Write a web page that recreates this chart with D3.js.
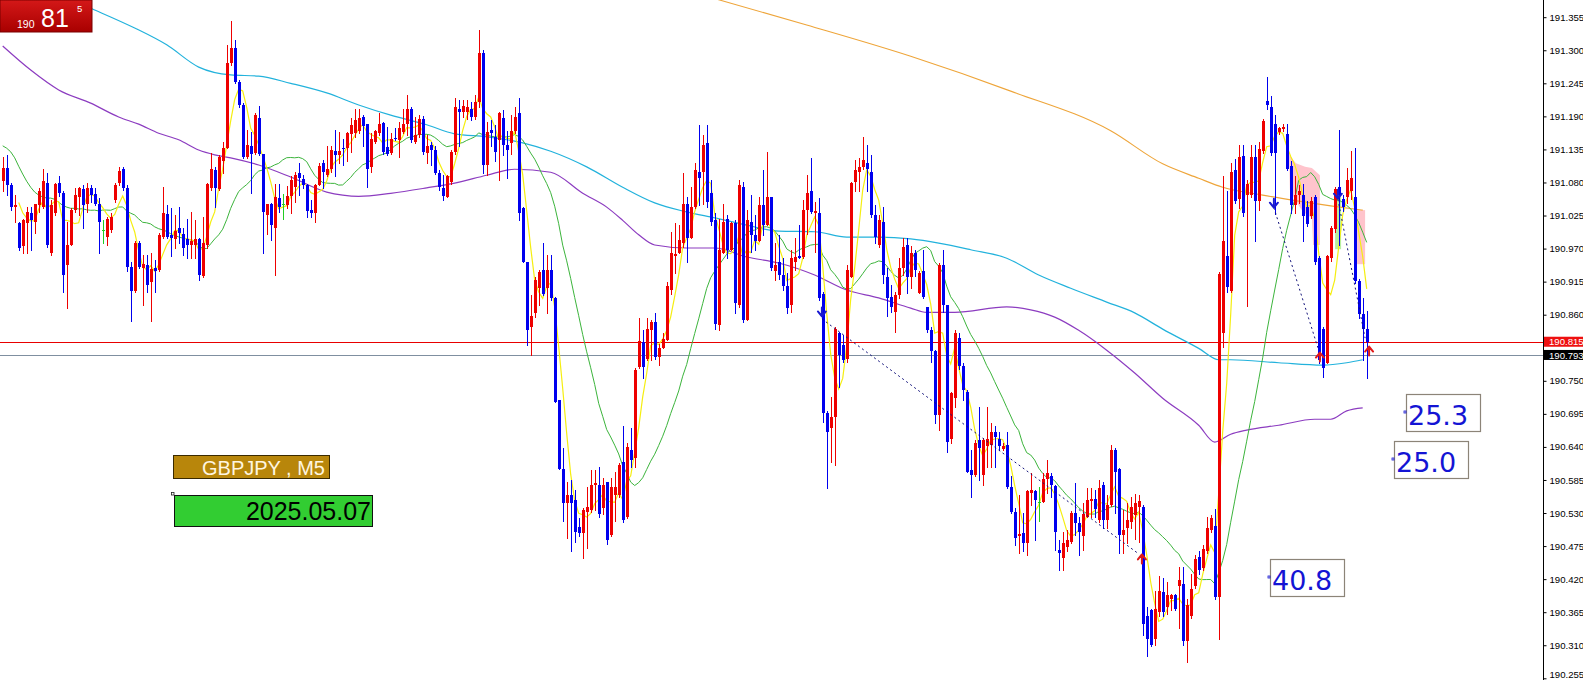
<!DOCTYPE html>
<html><head><meta charset="utf-8">
<script src="https://cdnjs.cloudflare.com/ajax/libs/d3/7.8.5/d3.min.js"></script>
<style>html,body{margin:0;padding:0;background:#fff;overflow:hidden}svg{display:block}</style>
</head><body><svg id="c" width="1583" height="680"></svg>
<script>
// ---- DATA ----
const symbolLabel = "GBPJPY , M5";
const dateLabel = "2025.05.07";
const bidPrice = 190.815;
const secondPrice = 190.793;
const yTickLabels = ["191.355","191.300","191.245","191.190","191.135","191.080","191.025","190.970","190.915","190.860","190.750","190.695","190.640","190.585","190.530","190.475","190.420","190.365","190.310","190.255"];
// [open, high, low, close]
const candles = [
[191.082,191.123,191.065,191.104],[191.104,191.126,191.059,191.076],[191.076,191.079,191.034,191.040],[191.040,191.059,191.015,191.043],
[191.012,191.015,190.968,190.971],[190.974,191.020,190.962,191.018],[191.012,191.040,190.962,191.031],[191.029,191.040,190.968,191.018],
[191.015,191.045,190.996,191.044],[191.043,191.070,191.031,191.066],[191.040,191.103,191.037,191.082],[191.079,191.095,190.973,190.976],
[190.962,191.051,190.959,191.043],[191.029,191.079,191.026,191.077],[191.079,191.090,191.057,191.062],[191.062,191.065,190.898,190.926],
[190.943,191.015,190.871,190.976],[190.976,191.037,190.976,191.034],[191.034,191.070,191.031,191.059],[191.055,191.073,191.026,191.070],
[191.069,191.076,191.004,191.043],[191.045,191.079,191.031,191.070],[191.070,191.076,191.048,191.059],[191.060,191.070,191.043,191.045],
[191.045,191.054,190.962,191.015],[191.001,191.018,190.979,191.001],[190.990,191.023,190.976,191.019],[191.001,191.029,190.998,191.023],
[191.051,191.079,191.048,191.076],[191.079,191.106,191.076,191.099],[191.103,191.105,191.068,191.070],[191.070,191.076,190.932,190.940],
[190.940,190.948,190.849,190.900],[190.900,190.982,190.898,190.979],[190.979,190.982,190.937,190.940],[190.937,190.959,190.876,190.944],
[190.942,190.959,190.898,190.909],[190.915,190.962,190.849,190.936],[190.938,190.951,190.898,190.933],[190.935,190.996,190.932,190.993],
[190.990,191.073,190.987,191.029],[191.028,191.043,190.987,190.990],[190.993,191.038,190.957,190.988],[190.986,191.026,190.971,190.999],
[191.005,191.040,190.979,190.996],[190.994,191.004,190.959,190.971],[190.986,191.019,190.954,190.976],[190.976,191.031,190.954,190.982],
[190.976,191.018,190.954,190.986],[190.986,190.987,190.918,190.926],[190.925,191.023,190.923,190.979],[190.976,191.079,190.971,191.077],
[191.070,191.129,191.068,191.103],[191.101,191.106,191.040,191.070],[191.069,191.126,191.068,191.123],[191.115,191.148,191.095,191.138],
[191.138,191.309,191.137,191.279],[191.278,191.348,191.275,191.303],[191.303,191.317,191.245,191.248],[191.248,191.250,191.205,191.209],
[191.209,191.212,191.120,191.123],[191.123,191.167,191.120,191.142],[191.140,191.164,191.062,191.128],[191.129,191.195,191.128,191.192],
[191.187,191.207,191.126,191.128],[191.128,191.128,190.962,191.031],[191.026,191.045,190.995,191.045],[191.045,191.046,190.984,191.009],
[191.004,191.078,190.926,191.056],[191.054,191.078,191.031,191.040],[191.045,191.061,191.020,191.045],[191.042,191.074,191.037,191.057],
[191.057,191.090,191.030,191.084],[191.073,191.098,191.048,191.092],[191.096,191.112,191.059,191.087],[191.085,191.092,191.070,191.076],
[191.076,191.078,191.023,191.033],[191.034,191.051,191.023,191.029],[191.029,191.078,191.015,191.076],[191.076,191.112,191.076,191.107],
[191.113,191.117,191.070,191.098],[191.092,191.140,191.090,191.103],[191.103,191.141,191.098,191.134],[191.132,191.167,191.090,191.126],
[191.126,191.164,191.112,191.132],[191.137,191.153,191.109,191.135],[191.137,191.164,191.115,191.162],[191.160,191.187,191.131,191.176],
[191.162,191.202,191.156,191.184],[191.165,191.202,191.162,191.187],[191.189,191.192,191.140,191.174],[191.177,191.178,191.073,191.103],
[191.106,191.162,191.098,191.153],[191.148,191.167,191.145,191.165],[191.162,191.196,191.159,191.177],[191.179,191.181,191.128,191.131],
[191.139,191.173,191.126,191.128],[191.129,191.162,191.128,191.153],[191.154,191.170,191.150,191.153],[191.150,191.181,191.123,191.170],
[191.164,191.203,191.162,191.178],[191.177,191.225,191.159,191.203],[191.203,191.205,191.148,191.151],[191.148,191.189,191.145,191.159],
[191.159,191.192,191.156,191.185],[191.185,191.191,191.128,191.131],[191.129,191.159,191.112,191.140],[191.142,191.148,191.109,191.134],
[191.134,191.140,191.094,191.095],[191.096,191.101,191.067,191.073],[191.070,191.092,191.051,191.057],[191.056,191.092,191.056,191.091],
[191.081,191.134,191.078,191.131],[191.131,191.220,191.128,191.206],[191.203,191.217,191.140,191.198],[191.198,191.217,191.189,191.207],
[191.198,191.217,191.185,191.206],[191.203,191.214,191.184,191.189],[191.189,191.225,191.185,191.214],[191.214,191.333,191.205,191.296],
[191.296,191.300,191.095,191.109],[191.109,191.181,191.092,191.164],[191.167,191.184,191.140,191.162],[191.156,191.176,191.115,191.131],
[191.151,191.198,191.084,191.195],[191.187,191.201,191.126,191.142],[191.142,191.165,191.087,191.134],[191.145,191.192,191.128,191.165],
[191.165,191.206,191.162,191.189],[191.195,191.220,191.017,191.029],[191.037,191.040,190.948,190.948],[190.948,190.948,190.809,190.834],
[190.840,190.893,190.793,190.858],[190.862,190.923,190.856,190.918],[190.904,190.934,190.876,190.931],[190.935,190.979,190.893,190.895],
[190.904,190.959,190.862,190.934],[190.935,190.959,190.884,190.887],[190.887,190.890,190.715,190.715],[190.718,190.718,190.604,190.604],
[190.603,190.638,190.516,190.546],[190.546,190.582,190.488,190.560],[190.560,190.585,190.466,190.546],[190.552,190.568,190.482,190.499],
[190.507,190.521,190.491,190.496],[190.496,190.538,190.455,190.535],[190.532,190.574,190.471,190.540],[190.535,190.602,190.532,190.577],
[190.577,190.602,190.535,190.580],[190.577,190.607,190.524,190.529],[190.538,190.588,190.529,190.577],[190.582,190.582,190.479,190.485],
[190.493,190.588,190.491,190.574],[190.560,190.599,190.516,190.574],[190.560,190.613,190.557,190.610],[190.615,190.674,190.515,190.518],
[190.524,190.646,190.521,190.640],[190.635,190.671,190.607,190.618],[190.621,190.771,190.607,190.768],[190.773,190.854,190.771,190.817],
[190.815,190.834,190.754,190.773],[190.787,190.854,190.785,190.837],[190.834,190.851,190.785,190.848],[190.848,190.862,190.787,190.790],
[190.790,190.812,190.776,190.804],[190.804,190.829,190.804,190.819],[190.818,190.915,190.818,190.907],[190.901,190.998,190.895,190.962],
[190.957,191.012,190.929,190.961],[190.962,191.009,190.962,190.984],[190.979,191.095,190.973,191.045],[191.045,191.056,190.948,190.987],
[190.987,191.073,190.987,191.040],[191.040,191.112,191.037,191.101],[191.098,191.176,191.042,191.087],[191.098,191.159,191.045,191.142],
[191.145,191.176,191.040,191.048],[191.062,191.084,191.009,191.015],[191.017,191.029,190.837,190.845],[190.843,191.020,190.834,190.968],
[190.962,191.045,190.962,191.015],[191.019,191.026,190.954,190.968],[190.968,191.015,190.968,191.012],[191.012,191.017,190.862,190.879],
[190.876,191.084,190.873,191.076],[191.073,191.081,190.848,190.851],[190.851,191.034,190.851,191.017],[191.015,191.059,190.965,190.993],
[190.993,191.026,190.968,190.982],[190.982,191.056,190.982,191.043],[191.043,191.101,190.993,191.009],[191.009,191.131,191.009,191.056],
[191.056,191.056,190.934,190.937],[190.932,190.979,190.918,190.943],[190.948,190.992,190.920,190.926],[190.926,190.954,190.901,190.907],
[190.907,190.929,190.862,190.871],[190.876,190.968,190.865,190.954],[190.948,190.987,190.934,190.956],[190.958,191.009,190.954,190.954],
[190.956,191.051,190.954,191.034],[191.034,191.092,190.995,191.062],[191.065,191.120,191.029,191.031],[191.029,191.048,190.965,191.032],
[191.029,191.054,190.884,190.887],[190.895,190.898,190.682,190.696],[190.696,190.699,190.571,190.665],[190.671,190.723,190.615,190.690],
[190.690,190.840,190.610,190.837],[190.829,190.832,190.740,190.793],[190.809,190.826,190.782,190.785],[190.787,190.943,190.782,190.934],
[190.923,191.081,190.923,191.079],[191.081,191.117,191.065,191.101],[191.098,191.120,191.065,191.106],[191.106,191.156,191.103,191.117],
[191.112,191.142,191.065,191.103],[191.098,191.126,191.023,191.026],[191.026,191.043,190.979,190.990],[190.976,191.026,190.973,191.017],
[191.015,191.040,190.912,190.926],[190.923,190.937,190.857,190.887],[190.890,190.909,190.865,190.873],[190.865,190.898,190.832,190.893],
[190.893,190.954,190.887,190.937],[190.937,190.987,190.926,190.973],[190.976,190.987,190.896,190.923],[190.923,190.975,190.905,190.962],
[190.962,190.968,190.925,190.935],[190.896,190.932,190.896,190.929],[190.932,190.968,190.887,190.890],[190.873,190.873,190.832,190.835],
[190.835,190.840,190.782,190.799],[190.799,190.801,190.679,190.693],[190.693,190.946,190.668,190.943],[190.943,190.968,190.865,190.876],
[190.876,190.876,190.632,190.649],[190.654,190.732,190.646,190.729],[190.721,190.835,190.707,190.829],[190.821,190.829,190.770,190.774],
[190.774,190.779,190.718,190.735],[190.732,190.735,190.599,190.599],[190.602,190.635,190.557,190.593],[190.593,190.652,190.591,190.646],
[190.652,190.707,190.585,190.638],[190.593,190.655,190.577,190.652],[190.641,190.707,190.607,190.654],[190.643,190.679,190.607,190.665],
[190.664,190.674,190.607,190.657],[190.654,190.665,190.635,190.642],[190.636,190.646,190.635,190.642],[190.643,190.665,190.571,190.574],
[190.574,190.591,190.530,190.532],[190.532,190.538,190.477,190.488],[190.492,190.560,190.463,190.495],[190.496,190.530,190.466,190.480],
[190.480,190.568,190.460,190.566],[190.563,190.596,190.543,190.568],[190.567,190.568,190.485,190.552],[190.549,190.574,190.516,190.549],
[190.549,190.596,190.549,190.586],[190.586,190.618,190.563,190.597],[190.591,190.596,190.557,190.577],[190.575,190.577,190.469,190.499],
[190.468,190.485,190.435,190.463],[190.455,190.499,190.435,190.480],[190.474,190.501,190.466,190.485],[190.482,190.533,190.480,190.530],
[190.530,190.580,190.493,190.513],[190.513,190.524,190.460,190.499],[190.492,190.546,190.469,190.528],[190.524,190.571,190.524,190.552],
[190.550,190.571,190.524,190.554],[190.554,190.568,190.524,190.536],[190.519,190.585,190.515,190.571],[190.577,190.582,190.505,190.519],
[190.519,190.560,190.505,190.544],[190.544,190.643,190.541,190.635],[190.635,190.638,190.530,190.599],[190.603,190.605,190.463,190.493],
[190.493,190.535,190.463,190.501],[190.505,190.546,190.480,190.519],[190.515,190.556,190.505,190.540],[190.527,190.562,190.486,190.547],
[190.540,190.560,190.482,190.550],[190.540,190.543,190.327,190.346],[190.358,190.374,190.292,190.320],[190.368,190.371,190.308,190.311],
[190.320,190.400,190.311,190.371],[190.365,190.425,190.358,190.400],[190.398,190.422,190.358,190.365],[190.374,190.416,190.362,190.393],
[190.387,190.396,190.368,190.393],[190.393,190.396,190.368,190.371],[190.409,190.441,190.339,190.419],[190.412,190.441,190.311,190.317],
[190.317,190.387,190.282,190.377],[190.358,190.428,190.355,190.403],[190.409,190.460,190.406,190.454],[190.457,190.467,190.428,190.435],
[190.438,190.476,190.435,190.470],[190.467,190.524,190.464,190.505],[190.502,190.527,190.498,190.521],[190.508,190.537,190.387,190.390],
[190.390,190.931,190.320,190.928],[190.830,191.091,190.807,190.982],[190.957,191.065,190.897,190.906],[190.900,191.113,190.897,191.097],
[191.100,191.119,191.046,191.049],[191.052,191.142,191.037,191.122],[191.124,191.142,191.024,191.030],[191.059,191.084,190.874,191.078],
[191.059,191.142,191.056,191.122],[191.122,191.142,190.983,191.049],[191.049,191.148,191.034,191.135],[191.132,191.186,191.129,191.183],
[191.215,191.256,191.202,191.209],[191.205,191.224,191.126,191.129],[191.177,191.193,191.027,191.129],[191.164,191.173,191.161,191.170],
[191.169,191.177,191.166,191.172],[191.161,191.177,191.100,191.103],[191.107,191.116,191.030,191.043],[191.043,191.091,191.030,191.059],
[191.059,191.075,191.046,191.065],[191.059,191.078,190.983,191.024],[191.040,191.050,191.008,191.011],[191.024,191.056,191.021,191.049],
[191.056,191.059,190.944,190.947],[190.954,190.957,190.779,190.785],[190.836,190.839,190.756,190.772],[190.779,190.960,190.779,190.957],
[190.954,191.008,190.950,191.005],[191.002,191.072,190.998,191.069],[191.072,191.167,190.976,191.059],[191.052,191.059,191.033,191.040],
[191.056,191.104,191.046,191.084],[191.065,191.132,191.052,191.087],[191.056,191.138,190.912,190.916],[190.916,190.919,190.855,190.861],
[190.861,190.887,190.785,190.836],[190.836,190.866,190.754,190.815]
];
// moving averages: [candle index, price]
const purpleMA = [[0,191.307],[7,191.267],[14,191.234],[22,191.212],[29,191.189],[34,191.177],[39,191.162],[44,191.151],[49,191.134],[53,191.126],[57,191.121],[64,191.109],[72,191.089],[81,191.064],[85,191.059],[89,191.057],[97,191.062],[106,191.071],[113,191.079],[121,191.092],[128,191.102],[137,191.097],[145,191.062],[151,191.039],[155,191.017],[159,190.993],[163,190.976],[171,190.971],[178,190.971],[186,190.956],[194,190.946],[203,190.926],[211,190.901],[219,190.888],[227,190.871],[231,190.864],[238,190.864],[251,190.873],[257,190.868],[263,190.856],[269,190.834],[276,190.801],[283,190.763],[290,190.721],[299,190.676],[303,190.648],[307,190.661],[311,190.668],[319,190.676],[328,190.686],[332,190.686],[336,190.700],[340,190.705]];
const cyanMA = [[0,191.434],[12,191.398],[23,191.367],[33,191.337],[41,191.309],[49,191.272],[57,191.259],[64,191.257],[72,191.245],[81,191.229],[89,191.209],[97,191.192],[106,191.176],[113,191.161],[121,191.156],[130,191.146],[137,191.132],[146,191.106],[155,191.072],[163,191.046],[171,191.031],[178,191.021],[186,191.009],[194,190.999],[203,190.998],[211,190.989],[219,190.989],[227,190.986],[234,190.979],[242,190.968],[251,190.954],[259,190.926],[267,190.904],[276,190.881],[283,190.863],[290,190.836],[299,190.804],[304,190.785],[307,190.785],[319,190.780],[330,190.776],[336,190.780],[340,190.785]];
const orangeMA = [[172,191.397],[179,191.384],[201,191.342],[227,191.290],[252,191.232],[277,191.166],[290,191.111],[299,191.087],[305,191.072],[315,191.059],[324,191.049],[332,191.041],[340,191.034]];
const greenLead = [191.141,191.137,191.131,191.121,191.107,191.094,191.082,191.072,191.064,191.059,191.056,191.054,191.054,191.052,191.047,191.042,191.039,191.037,191.037,191.036];
const fastPeriod = 5, slowPeriod = 21;
// signals [candle index, price]
const downArrows = [[204.8,190.862],[317.8,191.043],[333.8,191.058]];
const upArrows = [[284.8,190.456],[329.3,190.792],[341.6,190.802]];
const signalLines = [[[204.8,190.853],[283.8,190.463]],[[317.8,191.038],[328.8,190.805]],[[333.8,191.052],[340.6,190.821]]];
// shaded zones
const pinkZone = [[321.6,191.126],[323.3,191.112],[325.6,191.106],[327.3,191.104],[329.3,191.092],[329.3,190.976],[327.6,190.976],[327.3,191.021],[325.1,191.031],[323.6,191.046],[321.8,191.067]];
const pinkZone2 = [[338.6,191.034],[340.6,191.034],[340.6,190.944],[338.6,190.944]];
const greenZone = [[333.1,191.056],[334.6,191.056],[334.6,190.969],[333.1,190.969]];
const valueLabels = ["25.3","25.0","40.8"];

// ---- DRAW ----
const W = 1583, H = 680, axisX = 1543;
const svg = d3.select("#c");
const x = d3.scaleLinear().domain([0, 341]).range([2.7, 1366.7]);
const y = d3.scaleLinear().domain([190.255, 191.355]).range([678.3, 17.2]);

svg.append("defs").append("clipPath").attr("id","plot").append("rect").attr("x",0).attr("y",0).attr("width",axisX).attr("height",H);
const g = svg.append("g").attr("clip-path","url(#plot)");

// horizontal price lines
g.append("line").attr("x1",0).attr("x2",axisX).attr("y1",Math.round(y(bidPrice))+0.5).attr("y2",Math.round(y(bidPrice))+0.5).attr("stroke","#e80000").attr("stroke-width",1);
g.append("line").attr("x1",0).attr("x2",axisX).attr("y1",Math.round(y(secondPrice))+0.5).attr("y2",Math.round(y(secondPrice))+0.5).attr("stroke","#7f8fa0").attr("stroke-width",1);

// shaded zones
const poly = d3.line().x(d=>x(d[0])).y(d=>y(d[1]));
g.append("path").attr("d",poly(pinkZone)+"Z").attr("fill","#ffc4cc");
g.append("path").attr("d",poly(pinkZone2)+"Z").attr("fill","#ffc4cc");
g.append("path").attr("d",poly(greenZone)+"Z").attr("fill","#b8f0a0");

// moving averages
const closes = candles.map(d=>d[3]);
const sma = (p, i) => d3.mean(closes.slice(i-p+1, i+1));
const yellow = closes.map((c,i)=> i>=fastPeriod-1 ? [i, sma(fastPeriod,i)] : null).filter(Boolean);
const green = closes.map((c,i)=> i>=slowPeriod-1 ? [i, sma(slowPeriod,i)] : [i, greenLead[i]]);
const smooth = d3.line().x(d=>x(d[0])).y(d=>y(d[1])).curve(d3.curveMonotoneX);
const straight = d3.line().x(d=>x(d[0])).y(d=>y(d[1]));
g.append("path").attr("d",smooth(orangeMA)).attr("fill","none").attr("stroke","#eea53a").attr("stroke-width",1.1);
g.append("path").attr("d",smooth(cyanMA)).attr("fill","none").attr("stroke","#22b2dc").attr("stroke-width",1.2);
g.append("path").attr("d",smooth(purpleMA)).attr("fill","none").attr("stroke","#8c3cc0").attr("stroke-width",1.2);
g.append("path").attr("d",straight(green)).attr("fill","none").attr("stroke","#3cb43c").attr("stroke-width",1);
g.append("path").attr("d",straight(yellow)).attr("fill","none").attr("stroke","#f5ee10").attr("stroke-width",1.2);

// candles
const bull = "#ee0000", bear = "#0000ee", doji = "#22cc22";
const cg = g.append("g").attr("shape-rendering","crispEdges");
candles.forEach((d,i)=>{
  const [o,h,l,c] = d;
  const col = o===c ? doji : (c>o ? bull : bear);
  const cx = Math.round(x(i));
  const top = Math.max(o,c), bot = Math.min(o,c);
  cg.append("line").attr("x1",cx+0.5).attr("x2",cx+0.5)
    .attr("y1",Math.round(y(Math.max(h,top)))).attr("y2",Math.round(y(Math.min(l,bot)))+1)
    .attr("stroke",col).attr("stroke-width",1);
  const yt = Math.round(y(top)), yb = Math.round(y(bot));
  cg.append("rect").attr("x",cx-1).attr("width",3).attr("y",yt).attr("height",Math.max(1,yb-yt)).attr("fill",col);
});

// signal dotted lines
signalLines.forEach(s=>{
  g.append("path").attr("d",straight(s)).attr("fill","none").attr("stroke","#10107a").attr("stroke-width",1).attr("stroke-dasharray","2,3");
});
// arrows
downArrows.forEach(a=>{
  const ax = x(a[0]), ay = y(a[1]);
  g.append("path").attr("d",`M${ax-4},${ay-2} L${ax},${ay+3} L${ax+4},${ay-2} M${ax},${ay-6} L${ax},${ay+2}`)
   .attr("fill","none").attr("stroke","#1a1ad0").attr("stroke-width",2).attr("stroke-linecap","round").attr("stroke-linejoin","round");
});
upArrows.forEach(a=>{
  const ax = x(a[0]), ay = y(a[1]);
  g.append("path").attr("d",`M${ax-4},${ay+2} L${ax},${ay-3} L${ax+4},${ay+2} M${ax},${ay+6} L${ax},${ay-2}`)
   .attr("fill","none").attr("stroke","#e01818").attr("stroke-width",2).attr("stroke-linecap","round").attr("stroke-linejoin","round");
});

// right axis
svg.append("line").attr("x1",axisX+0.5).attr("x2",axisX+0.5).attr("y1",0).attr("y2",H).attr("stroke","#000").attr("stroke-width",1);
const tickVals = yTickLabels.map(Number);
const axis = d3.axisRight(y).tickValues(tickVals).tickSize(3).tickPadding(3).tickFormat((d,i)=>yTickLabels[i]);
const ag = svg.append("g").attr("transform",`translate(${axisX+0.5},0)`).call(axis);
ag.select(".domain").remove();
ag.selectAll("text").attr("font-family","Liberation Sans, Arial, sans-serif").attr("font-size","9.6px").attr("fill","#000");
ag.selectAll("line").attr("stroke","#000");
// keep the lowest label inside the picture
ag.selectAll(".tick").filter(d=>y(d)>H-6).select("text").attr("dy","-0.05em");

// price tags
function tag(p, bg, fg){
  const yy = y(p);
  svg.append("rect").attr("x",axisX+1).attr("y",yy-5).attr("width",W-axisX-1).attr("height",10).attr("fill",bg);
  svg.append("text").attr("x",axisX+6).attr("y",yy+3.6).text(p.toFixed(3)).attr("font-family","Liberation Sans, Arial, sans-serif").attr("font-size","9.6px").attr("fill",fg);
}
tag(secondPrice,"#000","#fff");
tag(bidPrice,"#ee1010","#fff");

// top-left bid box
const grad = svg.append("defs").append("linearGradient").attr("id","rg").attr("x1",0).attr("x2",0).attr("y1",0).attr("y2",1);
grad.append("stop").attr("offset","0%").attr("stop-color","#d41818");
grad.append("stop").attr("offset","100%").attr("stop-color","#a80000");
svg.append("rect").attr("x",0).attr("y",0).attr("width",92).attr("height",32).attr("fill","url(#rg)").attr("stroke","#7a0000");
const bidStr = bidPrice.toFixed(3);
svg.append("text").attr("x",17).attr("y",28).text(bidStr.slice(0,3)).attr("font-family","Liberation Sans, Arial, sans-serif").attr("font-size","10.5px").attr("fill","#fff");
svg.append("text").attr("x",41).attr("y",26.5).text(bidStr.slice(4,6)).attr("font-family","Liberation Sans, Arial, sans-serif").attr("font-size","25px").attr("fill","#fff");
svg.append("text").attr("x",77).attr("y",12).text(bidStr.slice(6)).attr("font-family","Liberation Sans, Arial, sans-serif").attr("font-size","9.5px").attr("fill","#fff");

// symbol box
svg.append("rect").attr("x",173.5).attr("y",455.5).attr("width",156).attr("height",23).attr("fill","#b8860b").attr("stroke","#3a2a00");
svg.append("text").attr("x",325).attr("y",474.5).attr("text-anchor","end").text(symbolLabel).attr("font-family","Liberation Sans, Arial, sans-serif").attr("font-size","20px").attr("fill","#fff6e0");
// date box
svg.append("rect").attr("x",174.5).attr("y",495.5).attr("width",198).attr("height",31).attr("fill","#32cd32").attr("stroke","#111");
svg.append("rect").attr("x",171.5).attr("y",492.5).attr("width",2.5).attr("height",2.5).attr("fill","#fff").attr("stroke","#222").attr("stroke-width",0.8);
svg.append("text").attr("x",371).attr("y",520).attr("text-anchor","end").text(dateLabel).attr("font-family","Liberation Sans, Arial, sans-serif").attr("font-size","25px").attr("fill","#000");

// value boxes
const boxPos = [[1406,394],[1394,441],[1270,559]];
valueLabels.forEach((t,k)=>{
  const [bx,by] = boxPos[k];
  svg.append("rect").attr("x",bx+0.5).attr("y",by+0.5).attr("width",74).attr("height",37).attr("fill","#fff").attr("stroke","#8c8478").attr("stroke-width",1.2);
  svg.append("rect").attr("x",bx-2).attr("y",by+17).attr("width",2).attr("height",2).attr("fill","none").attr("stroke","#1414d0").attr("stroke-width",0.8);
  svg.append("text").attr("x",bx+2).attr("y",by+31).text(t).attr("font-family","DejaVu Sans, Verdana, sans-serif").attr("font-size","27px").attr("fill","#1414d4");
});
</script></body></html>
